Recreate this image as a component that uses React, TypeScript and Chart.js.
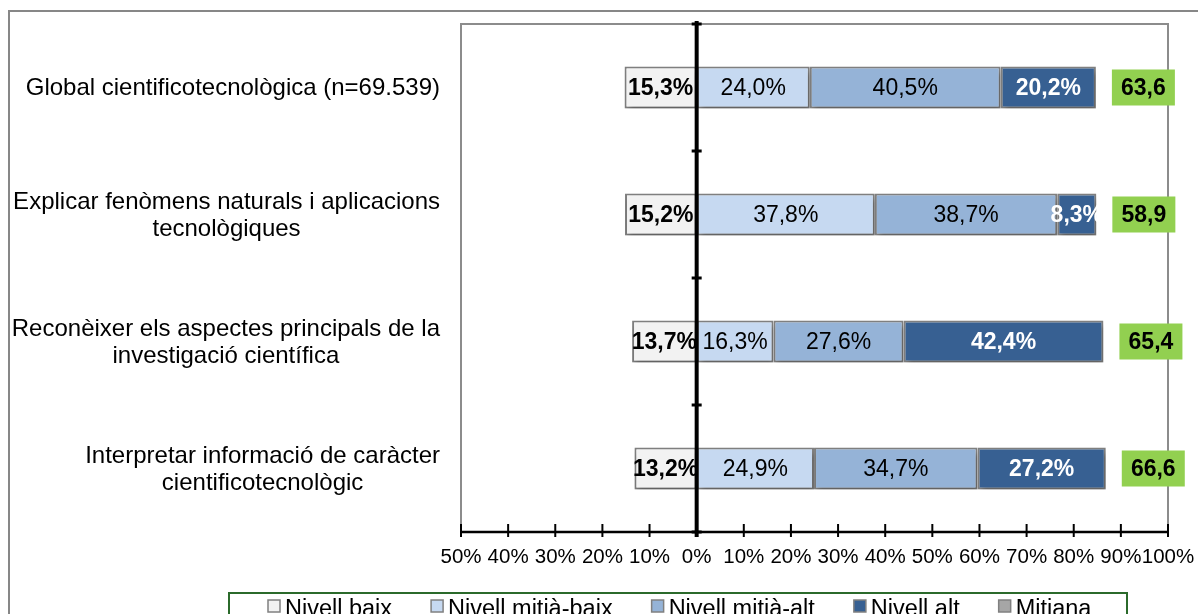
import React, { useEffect, useRef } from 'react';
import { Chart, registerables } from 'chart.js';

Chart.register(...registerables);

// ---------- data ----------
const categories: string[][] = [
  ['Global cientificotecnològica (n=69.539)'],
  ['Explicar fenòmens naturals i aplicacions', 'tecnològiques'],
  ['Reconèixer els aspectes principals de la', 'investigació científica'],
  ['Interpretar informació de caràcter', 'cientificotecnològic'],
];
const nivellBaix = [15.3, 15.2, 13.7, 13.2];
const nivellMitjaBaix = [24.0, 37.8, 16.3, 24.9];
const nivellMitjaAlt = [40.5, 38.7, 27.6, 34.7];
const nivellAlt = [20.2, 8.3, 42.4, 27.2];
const mitjana = [63.6, 58.9, 65.4, 66.6];
const seriesNames = ['Nivell baix', 'Nivell mitià-baix', 'Nivell mitià-alt', 'Nivell alt', 'Mitiana'];
const xMin = -50;
const xMax = 100;
const xStep = 10;

// ---------- styles ----------
const FONT = '"Liberation Sans", Arial, Helvetica, sans-serif';
const seriesColors = ['#F2F2F2', '#C6D9F1', '#95B3D7', '#376092', '#A6A6A6'];
const labelColors = ['#000000', '#000000', '#000000', '#FFFFFF'];
const labelBold = [true, false, false, true];
const BAR_BORDER = '#7F7F7F';
const GREEN = '#92D050';

const fmtPct = (v: number) => Math.abs(v).toFixed(1).replace('.', ',') + '%';
const fmtNum = (v: number) => v.toFixed(1).replace('.', ',');

const decorPlugin = {
  id: 'decor',
  beforeDraw(chart: any) {
    const ctx = chart.ctx as CanvasRenderingContext2D;
    const { left, right, top, bottom } = chart.chartArea;
    ctx.save();
    ctx.fillStyle = '#ffffff';
    ctx.fillRect(0, 0, chart.width, chart.height);
    // outer frame
    ctx.strokeStyle = '#878787';
    ctx.lineWidth = 2;
    ctx.beginPath();
    ctx.moveTo(9, chart.height + 5);
    ctx.lineTo(9, 11);
    ctx.lineTo(chart.width + 5, 11);
    ctx.stroke();
    // plot frame
    ctx.strokeStyle = '#8C8C8C';
    ctx.lineWidth = 2;
    ctx.beginPath();
    ctx.moveTo(left, bottom);
    ctx.lineTo(left, top);
    ctx.lineTo(right, top);
    ctx.lineTo(right, bottom);
    ctx.stroke();
    ctx.restore();
  },
  beforeDatasetsDraw(chart: any) {
    const ctx = chart.ctx as CanvasRenderingContext2D;
    ctx.save();
    ctx.shadowColor = 'rgba(0,0,0,0.28)';
    ctx.shadowBlur = 5;
    ctx.shadowOffsetX = 2;
    ctx.shadowOffsetY = 4;
  },
  afterDatasetsDraw(chart: any) {
    const ctx = chart.ctx as CanvasRenderingContext2D;
    ctx.restore();
    const { left, right, top, bottom } = chart.chartArea;
    const xs = chart.scales.x;
    const ys = chart.scales.y;

    // segment labels
    ctx.save();
    ctx.textAlign = 'center';
    ctx.textBaseline = 'middle';
    for (let d = 0; d < 4; d++) {
      const meta = chart.getDatasetMeta(d);
      const data = chart.data.datasets[d].data as number[];
      ctx.font = `${labelBold[d] ? 'bold ' : ''}23px ${FONT}`;
      ctx.fillStyle = labelColors[d];
      meta.data.forEach((el: any, i: number) => {
        const cx = (el.x + el.base) / 2;
        ctx.fillText(fmtPct(data[i]), cx, el.y + 1);
      });
    }
    // mean boxes
    const mMeta = chart.getDatasetMeta(4);
    const mData = chart.data.datasets[4].data as number[];
    ctx.font = `bold 23px ${FONT}`;
    mMeta.data.forEach((el: any, i: number) => {
      const bx = el.base + 16;
      const bw = 63;
      const bh = 36;
      ctx.fillStyle = GREEN;
      ctx.fillRect(bx, el.y - bh / 2, bw, bh);
      ctx.fillStyle = '#000';
      ctx.fillText(fmtNum(mData[i]), bx + bw / 2, el.y + 1);
    });
    ctx.restore();

    // zero line with category ticks
    const x0 = xs.getPixelForValue(0);
    const step = ys.getPixelForValue(1) - ys.getPixelForValue(0);
    ctx.save();
    ctx.strokeStyle = '#000';
    ctx.lineWidth = 4;
    ctx.beginPath();
    ctx.moveTo(x0, top - 3);
    ctx.lineTo(x0, bottom + 5);
    ctx.stroke();
    ctx.lineWidth = 3;
    for (let i = 0; i <= categories.length; i++) {
      const yb = ys.getPixelForValue(0) - step / 2 + i * step;
      ctx.beginPath();
      ctx.moveTo(x0 - 5, yb);
      ctx.lineTo(x0 + 5, yb);
      ctx.stroke();
    }
    // x axis line + ticks
    ctx.lineWidth = 2.5;
    ctx.beginPath();
    ctx.moveTo(left, bottom);
    ctx.lineTo(right, bottom);
    ctx.stroke();
    ctx.lineWidth = 2;
    xs.ticks.forEach((t: any) => {
      const px = xs.getPixelForValue(t.value);
      ctx.beginPath();
      ctx.moveTo(px, bottom - 8);
      ctx.lineTo(px, bottom + 5);
      ctx.stroke();
    });
    ctx.restore();
  },
  afterDraw(chart: any) {
    const ctx = chart.ctx as CanvasRenderingContext2D;
    const { left } = chart.chartArea;
    const ys = chart.scales.y;
    ctx.save();
    // category labels: block right-aligned, lines centred
    ctx.font = `24px ${FONT}`;
    ctx.fillStyle = '#000';
    ctx.textAlign = 'center';
    ctx.textBaseline = 'middle';
    const lineH = 27;
    categories.forEach((lines, i) => {
      const yc = ys.getPixelForValue(i);
      const maxW = Math.max(...lines.map((l) => ctx.measureText(l).width));
      const cx = left - 21 - maxW / 2;
      lines.forEach((l, j) => {
        ctx.fillText(l, cx, yc + (j - (lines.length - 1) / 2) * lineH + 1);
      });
    });

    // legend
    const lgLeft = 229;
    const lgTop = 593;
    const lgRight = 1127;
    ctx.strokeStyle = '#2B6A2B';
    ctx.lineWidth = 2;
    ctx.beginPath();
    ctx.moveTo(lgLeft, chart.height + 5);
    ctx.lineTo(lgLeft, lgTop);
    ctx.lineTo(lgRight, lgTop);
    ctx.lineTo(lgRight, chart.height + 5);
    ctx.stroke();
    ctx.font = `23.5px ${FONT}`;
    ctx.textAlign = 'left';
    ctx.textBaseline = 'alphabetic';
    let x = 268;
    seriesNames.forEach((name, i) => {
      ctx.fillStyle = seriesColors[i];
      ctx.fillRect(x, 600, 12, 12);
      ctx.strokeStyle = '#808080';
      ctx.lineWidth = 1.5;
      ctx.strokeRect(x, 600, 12, 12);
      ctx.fillStyle = '#000';
      ctx.fillText(name, x + 17, 616);
      x += 17 + ctx.measureText(name).width + 39;
    });
    ctx.restore();
  },
};

export default function App() {
  const ref = useRef<HTMLCanvasElement>(null);
  useEffect(() => {
    const canvas = ref.current;
    if (!canvas) return;
    const seriesData = [nivellBaix.map((v) => -v), nivellMitjaBaix, nivellMitjaAlt, nivellAlt];
    const datasets: any[] = seriesData.map((d, i) => ({
      label: seriesNames[i],
      data: d,
      backgroundColor: seriesColors[i],
      borderColor: BAR_BORDER,
      borderWidth: 2,
      borderSkipped: false,
      categoryPercentage: 0.33,
      barPercentage: 1,
    }));
    datasets.push({
      label: seriesNames[4],
      data: mitjana,
      backgroundColor: 'rgba(0,0,0,0)',
      borderWidth: 0,
      categoryPercentage: 0.33,
      barPercentage: 1,
    });
    const chart = new Chart(canvas, {
      type: 'bar',
      data: {
        labels: categories.map((c) => c.join(' ')),
        datasets,
      },
      options: {
        indexAxis: 'y',
        responsive: false,
        animation: false,
        devicePixelRatio: 1,
        layout: { padding: { left: 461, right: 30, top: 24, bottom: 0 } },
        plugins: {
          legend: { display: false },
          tooltip: { enabled: false },
        },
        scales: {
          x: {
            type: 'linear',
            stacked: true,
            min: xMin,
            max: xMax,
            position: 'bottom',
            grid: { display: false, drawTicks: false },
            border: { display: false },
            ticks: {
              stepSize: xStep,
              autoSkip: false,
              maxRotation: 0,
              padding: 13,
              color: '#000',
              font: { family: FONT, size: 20.5 },
              callback: (v: any) => Math.abs(Number(v)) + '%',
            },
            afterFit: (s: any) => {
              s.height = 82;
              s.paddingLeft = 0;
              s.paddingRight = 0;
            },
          },
          y: {
            type: 'category',
            stacked: true,
            display: false,
            offset: true,
          },
        },
      },
      plugins: [decorPlugin],
    });
    return () => chart.destroy();
  }, []);
  return (
    <div style={{ position: 'fixed', left: 0, top: 0, width: 1198, height: 614, background: '#fff' }}>
      <canvas ref={ref} width={1198} height={614} style={{ display: 'block', width: 1198, height: 614 }} />
    </div>
  );
}
